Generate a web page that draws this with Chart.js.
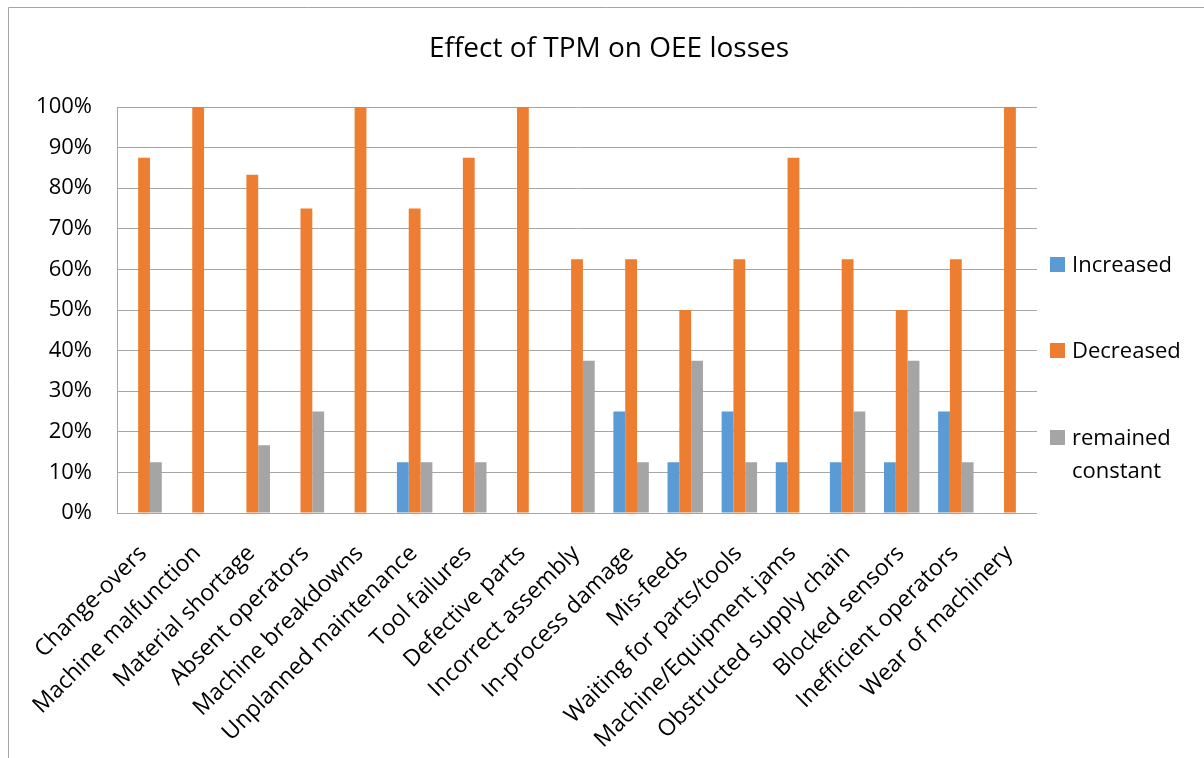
<!DOCTYPE html>
<html>
<head>
<meta charset="utf-8">
<script src="https://cdn.jsdelivr.net/npm/chart.js@4/dist/chart.umd.min.js"></script>
<style>
  html, body { margin: 0; padding: 0; background: #fff; }
  #wrap { position: absolute; left: 0; top: 0; width: 1204px; height: 758px; }
</style>
</head>
<body>
<div id="wrap"><canvas id="c" width="1204" height="758"></canvas></div>
<script>
const chartTitle = "Effect of TPM on OEE losses";
const categories = [
  "Change-overs", "Machine malfunction", "Material shortage", "Absent operators",
  "Machine breakdowns", "Unplanned maintenance", "Tool failures", "Defective parts",
  "Incorrect assembly", "In-process damage", "Mis-feeds", "Waiting for parts/tools",
  "Machine/Equipment jams", "Obstructed supply chain", "Blocked sensors",
  "Inefficient operators", "Wear of machinery"
];
const seriesNames = ["Increased", "Decreased", "remained constant"];
const increased = [0, 0, 0, 0, 0, 12.5, 0, 0, 0, 25, 12.5, 25, 12.5, 12.5, 12.5, 25, 0];
const decreased = [87.5, 100, 83.3, 75, 100, 75, 87.5, 100, 62.5, 62.5, 50, 62.5, 87.5, 62.5, 50, 62.5, 100];
const remainedConstant = [12.5, 0, 16.7, 25, 0, 12.5, 12.5, 0, 37.5, 12.5, 37.5, 12.5, 0, 25, 37.5, 12.5, 0];
const yTicks = [0, 10, 20, 30, 40, 50, 60, 70, 80, 90, 100];

const colors = ["#5b9bd5", "#ed7d31", "#a5a5a5"];
const FONT = "'Open Sans', 'DejaVu Sans', sans-serif";
const gridColor = "#a6a6a6";

const decorPlugin = {
  id: "decor",
  beforeDraw(chart) {
    const ctx = chart.ctx;
    ctx.save();
    ctx.fillStyle = "#fff";
    ctx.fillRect(0, 0, chart.width, chart.height);
    ctx.strokeStyle = gridColor;
    ctx.lineWidth = 1;
    ctx.beginPath();
    ctx.moveTo(8.5, chart.height);
    ctx.lineTo(8.5, 7.5);
    ctx.lineTo(chart.width, 7.5);
    ctx.stroke();
    ctx.restore();
  },
  afterDraw(chart) {
    const ctx = chart.ctx;
    ctx.save();
    // title
    ctx.fillStyle = "#000";
    ctx.font = "28px " + FONT;
    ctx.textAlign = "center";
    ctx.textBaseline = "alphabetic";
    ctx.fillText(chartTitle, 609, 57);
    // legend
    ctx.font = "22px " + FONT;
    ctx.textAlign = "left";
    const baselines = [272, 358, 445];
    chart.data.datasets.forEach((ds, i) => {
      ctx.fillStyle = ds.backgroundColor;
      ctx.fillRect(1050, baselines[i] - 15, 15, 15);
      ctx.fillStyle = "#000";
      const words = ds.label.split(" ");
      if (words.length > 1) {
        ctx.fillText(words[0], 1072, baselines[i]);
        ctx.fillText(words.slice(1).join(" "), 1072, baselines[i] + 33);
      } else {
        ctx.fillText(ds.label, 1072, baselines[i]);
      }
    });
    ctx.restore();
  }
};

new Chart(document.getElementById("c"), {
  type: "bar",
  data: {
    labels: categories,
    datasets: [
      { label: seriesNames[0], data: increased, backgroundColor: colors[0] },
      { label: seriesNames[1], data: decreased, backgroundColor: colors[1] },
      { label: seriesNames[2], data: remainedConstant, backgroundColor: colors[2] }
    ]
  },
  options: {
    responsive: false,
    animation: false,
    devicePixelRatio: 1,
    layout: { padding: { left: 10, top: 107, right: 167, bottom: 0 } },
    datasets: { bar: { categoryPercentage: 0.655, barPercentage: 1.0, borderWidth: 0 } },
    plugins: {
      legend: { display: false },
      title: { display: false },
      tooltip: { enabled: false }
    },
    scales: {
      x: {
        grid: { display: false },
        border: { display: false },
        ticks: {
          color: "#000",
          font: { family: FONT, size: 23 },
          minRotation: 45,
          maxRotation: 45,
          autoSkip: false,
          padding: 19,
          labelOffset: -1
        },
        afterFit(scale) { scale.height = 245; }
      },
      y: {
        min: 0,
        max: 100,
        afterBuildTicks(scale) { scale.ticks = yTicks.map(v => ({ value: v })); },
        grid: { color: gridColor, lineWidth: 1, drawTicks: false },
        border: { display: true, color: gridColor, width: 1 },
        ticks: {
          color: "#000",
          font: { family: FONT, size: 22 },
          padding: 25,
          callback: v => v + "%"
        },
        afterFit(scale) { scale.width = 107; }
      }
    }
  },
  plugins: [decorPlugin]
});
</script>
</body>
</html>
